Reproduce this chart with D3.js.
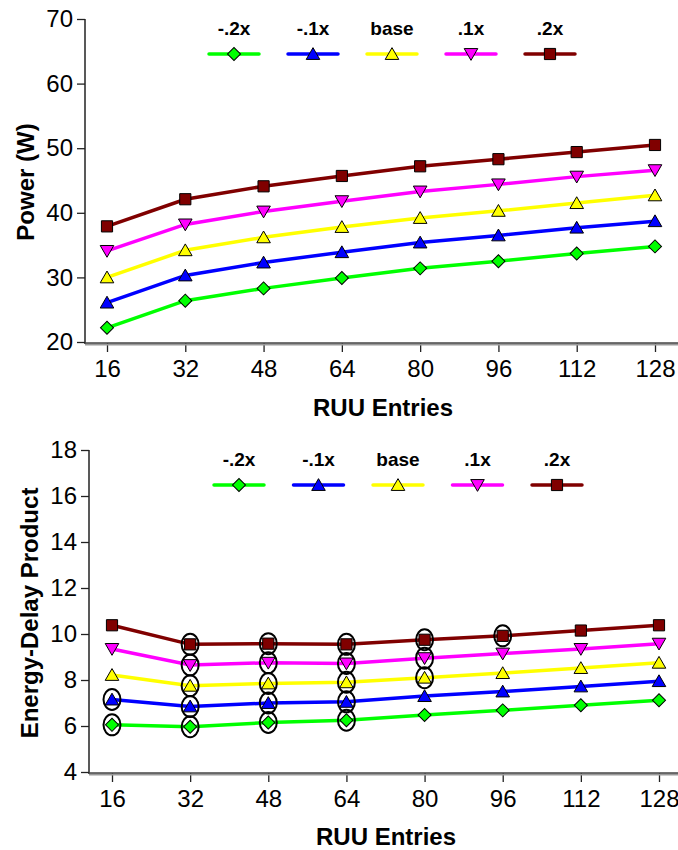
<!DOCTYPE html>
<html>
<head>
<meta charset="utf-8">
<script src="https://cdn.jsdelivr.net/npm/d3@7"></script>
<style>
  body { margin: 0; background: #fff; }
  svg { display: block; font-family: "Liberation Sans", Arial, sans-serif; }
  .tick text { font-size: 24px; fill: #000; }
  .axisTitle { font-size: 24px; font-weight: bold; }
  .legendText { font-size: 19px; font-weight: bold; }
</style>
</head>
<body>
<div id="chart"></div>
<script>
// RUU sizes on the x axis
var entries = [16, 32, 48, 64, 80, 96, 112, 128];
var seriesNames = ["-.2x", "-.1x", "base", ".1x", ".2x"];
var seriesColors = ["#00ff00", "#0000ff", "#ffff00", "#ff00ff", "#800000"];
var seriesShapes = ["diamond", "triangleUp", "triangleUp", "triangleDown", "square"];

// top panel: power (W)
var powerM2 = [22.2, 26.4, 28.3, 29.9, 31.4, 32.5, 33.7, 34.8];
var powerM1 = [26.1, 30.3, 32.3, 33.9, 35.4, 36.5, 37.7, 38.7];
var powerBase = [30.0, 34.2, 36.2, 37.8, 39.2, 40.3, 41.5, 42.7];
var powerP1 = [34.1, 38.2, 40.2, 41.8, 43.3, 44.4, 45.6, 46.6];
var powerP2 = [37.9, 42.1, 44.1, 45.7, 47.2, 48.3, 49.4, 50.5];
var powerTicks = [20, 30, 40, 50, 60, 70];

// bottom panel: energy-delay product
var edpM2 = [6.05, 5.97, 6.15, 6.25, 6.48, 6.68, 6.90, 7.12];
var edpM1 = [7.15, 6.85, 7.00, 7.05, 7.30, 7.50, 7.72, 7.95];
var edpBase = [8.22, 7.75, 7.85, 7.90, 8.10, 8.30, 8.52, 8.75];
var edpP1 = [9.35, 8.65, 8.75, 8.72, 8.95, 9.15, 9.35, 9.58];
var edpP2 = [10.38, 9.55, 9.58, 9.55, 9.75, 9.92, 10.15, 10.38];
var edpTicks = [4, 6, 8, 10, 12, 14, 16, 18];

// points circled in the bottom panel (per series)
var circledM2 = [16, 32, 48, 64];
var circledM1 = [16, 32, 48, 64];
var circledBase = [32, 48, 64, 80];
var circledP1 = [32, 48, 64, 80];
var circledP2 = [32, 48, 64, 80, 96];

var svg = d3.select("#chart").append("svg")
  .attr("width", 678)
  .attr("height", 850);

function symbolPath(shape) {
  if (shape === "diamond") return d3.symbol(d3.symbolSquare, 85)();
  if (shape === "square") return d3.symbol(d3.symbolSquare, 125)();
  return d3.symbol(d3.symbolTriangle, 80)();
}
function symbolRotate(shape) {
  if (shape === "diamond") return 45;
  if (shape === "triangleDown") return 180;
  return 0;
}
function drawMarker(g, shape, color, x, y) {
  var dy = shape === "triangleUp" ? 1.5 : (shape === "triangleDown" ? -1.5 : 0);
  g.append("path")
    .attr("d", symbolPath(shape))
    .attr("transform", `translate(${x}, ${y + dy}) rotate(${symbolRotate(shape)})`)
    .attr("fill", color)
    .attr("stroke", "#000")
    .attr("stroke-width", 1);
}

function drawPanel(opt) {
  var g = svg.append("g");
  var x = d3.scaleLinear().domain([16, 128]).range(opt.xRange);
  var y = d3.scaleLinear().domain(opt.yDomain).range(opt.yRange);

  // y axis
  var yAxis = g.append("g")
    .attr("transform", `translate(${opt.axisX}, 0)`)
    .call(d3.axisLeft(y).tickValues(opt.yTicks).tickSize(8).tickPadding(4));
  yAxis.select(".domain").remove();
  yAxis.selectAll(".tick line").attr("stroke", "#222").attr("stroke-width", 1.3);
  g.append("line")
    .attr("x1", opt.axisX).attr("x2", opt.axisX)
    .attr("y1", y(opt.yDomain[1])).attr("y2", y(opt.yDomain[0]) + 2)
    .attr("stroke", "#222").attr("stroke-width", 1.5);

  // x axis
  var axisY = y(opt.yDomain[0]) + 1;
  var xAxis = g.append("g")
    .attr("transform", `translate(0, ${axisY})`)
    .call(d3.axisBottom(x).tickValues(entries).tickSize(9).tickPadding(8));
  xAxis.select(".domain").remove();
  xAxis.selectAll(".tick line").attr("stroke", "#222").attr("stroke-width", 1.3);
  g.append("line")
    .attr("x1", opt.axisX).attr("x2", 678)
    .attr("y1", axisY + 1.5).attr("y2", axisY + 1.5)
    .attr("stroke", "#999").attr("stroke-width", 2);
  g.append("line")
    .attr("x1", opt.axisX).attr("x2", 678)
    .attr("y1", axisY).attr("y2", axisY)
    .attr("stroke", "#444").attr("stroke-width", 1.5);

  // titles
  g.append("text")
    .attr("class", "axisTitle")
    .attr("text-anchor", "middle")
    .attr("x", opt.xTitle[0]).attr("y", opt.xTitle[1])
    .text("RUU Entries");
  g.append("text")
    .attr("class", "axisTitle")
    .attr("text-anchor", "middle")
    .attr("transform", `translate(${opt.yTitle[0]}, ${opt.yTitle[1]}) rotate(-90)`)
    .text(opt.yLabel);

  // series lines
  var line = d3.line().x((d, i) => x(entries[i])).y(d => y(d));
  opt.series.forEach(function(vals, s) {
    g.append("path")
      .datum(vals)
      .attr("d", line)
      .attr("fill", "none")
      .attr("stroke", seriesColors[s])
      .attr("stroke-width", 3.5);
  });
  opt.series.forEach(function(vals, s) {
    vals.forEach(function(v, i) {
      drawMarker(g, seriesShapes[s], seriesColors[s], x(entries[i]), y(v));
    });
  });

  // circled points
  if (opt.circled) {
    opt.circled.forEach(function(list, s) {
      list.forEach(function(e) {
        var i = entries.indexOf(e);
        g.append("ellipse")
          .attr("cx", x(e)).attr("cy", y(opt.series[s][i]))
          .attr("rx", 8.5).attr("ry", 10.5)
          .attr("fill", "none")
          .attr("stroke", "#000")
          .attr("stroke-width", 2);
      });
    });
  }

  // legend
  var lx = d3.scalePoint().domain(seriesNames).range(opt.legendRange);
  seriesNames.forEach(function(name, s) {
    var cx = lx(name);
    g.append("text")
      .attr("class", "legendText")
      .attr("text-anchor", "middle")
      .attr("x", cx).attr("y", opt.legendY - 19)
      .text(name);
    g.append("line")
      .attr("x1", cx - 25).attr("x2", cx + 25)
      .attr("y1", opt.legendY).attr("y2", opt.legendY)
      .attr("stroke", seriesColors[s])
      .attr("stroke-width", 3.5)
      .attr("stroke-linecap", "round");
    drawMarker(g, seriesShapes[s], seriesColors[s], cx, opt.legendY);
  });
}

drawPanel({
  xRange: [107, 655],
  yDomain: [20, 70],
  yRange: [342, 19],
  yTicks: powerTicks,
  axisX: 85,
  series: [powerM2, powerM1, powerBase, powerP1, powerP2],
  yLabel: "Power (W)",
  xTitle: [383, 416],
  yTitle: [34, 182],
  legendRange: [234, 550],
  legendY: 54
});

drawPanel({
  xRange: [112, 659],
  yDomain: [4, 18],
  yRange: [772, 450],
  yTicks: edpTicks,
  axisX: 89,
  series: [edpM2, edpM1, edpBase, edpP1, edpP2],
  circled: [circledM2, circledM1, circledBase, circledP1, circledP2],
  yLabel: "Energy-Delay Product",
  xTitle: [386, 845],
  yTitle: [38, 613],
  legendRange: [239, 557],
  legendY: 485
});
</script>
</body>
</html>
